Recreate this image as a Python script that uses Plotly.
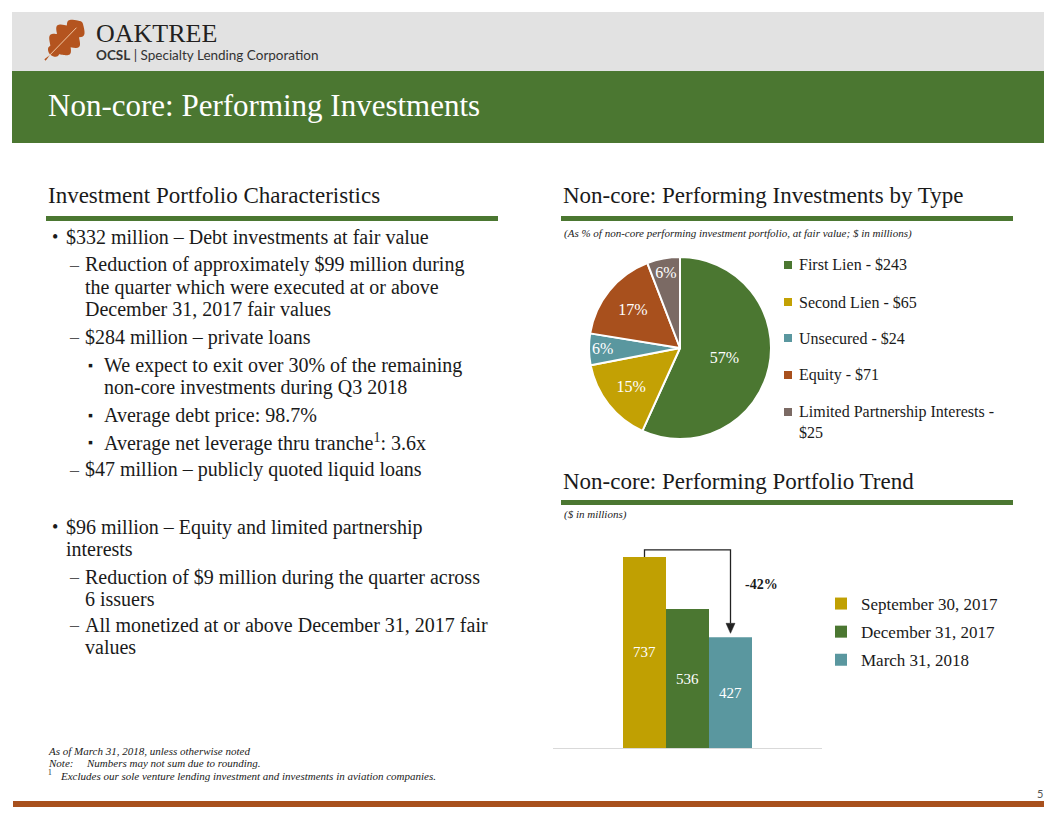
import math
import plotly.graph_objects as go

W, H = 1056, 816
SERIF = "Liberation Serif"
SANS = "Lato"
INK = "#1a1a1a"

# ---------------- data ----------------
pie_labels = ["First Lien", "Second Lien", "Unsecured", "Equity", "Limited Partnership Interests"]
pie_values = [243, 65, 24, 71, 25]
pie_colors = ["#4b7731", "#c3a104", "#5a979f", "#a8501d", "#7b6a64"]

bar_labels = ["September 30, 2017", "December 31, 2017", "March 31, 2018"]
bar_values = [737, 536, 427]
bar_colors = ["#c0a002", "#4b7731", "#5a979f"]

GREEN = "#4b7731"
ORANGE = "#a8501d"


def px(x):
    return x / W


def py(y):
    return 1 - y / H


fig = go.Figure()
shapes = []
ann = []


def rect(x0, y0, x1, y1, color):
    shapes.append(dict(type="rect", xref="paper", yref="paper", x0=px(x0), x1=px(x1),
                       y0=py(y1), y1=py(y0), fillcolor=color, line=dict(width=0), layer="below"))


def text(x, y, s, size, color=INK, family=SERIF, xanchor="left", yanchor="middle", italic=False, bold=False):
    ann.append(dict(x=px(x), y=py(y), xref="paper", yref="paper", text=s, showarrow=False,
                    xanchor=xanchor, yanchor=yanchor, align="left",
                    font=dict(family=family, size=size, color=color,
                              style="italic" if italic else "normal",
                              weight="bold" if bold else "normal")))


# ---------------- header ----------------
rect(12, 12, 1044, 71, "#e2e2e2")
rect(12, 71, 1044, 143, GREEN)

# oak leaf logo
bx, by, tx, ty = 45, 60, 82, 22
L = math.hypot(tx - bx, ty - by)
ux, uy = (tx - bx) / L, (ty - by) / L
nx, ny = -uy, ux
side_a, side_b = [], []
N = 120
for k in range(N + 1):
    t = k / N
    u = 0.14 + 0.86 * t
    w = 15.5 * (math.sin(math.pi * t) ** 0.55) * (0.62 + 0.38 * abs(math.cos(math.pi * 3.5 * t)))
    cx, cy = bx + ux * L * u, by + uy * L * u
    side_a.append((cx + nx * w, cy + ny * w))
    side_b.append((cx - nx * w, cy - ny * w))
pts = [(bx - nx * 0.9, by - ny * 0.9)] + side_a + side_b[::-1] + [(bx + nx * 0.9, by + ny * 0.9)]
path = "M " + " L ".join(f"{px(x):.5f},{py(y):.5f}" for x, y in pts) + " Z"
shapes.append(dict(type="path", xref="paper", yref="paper", path=path, fillcolor="#b4541f",
                   line=dict(width=0)))
shapes.append(dict(type="line", xref="paper", yref="paper", x0=px(bx + ux * 5), y0=py(by + uy * 5),
                   x1=px(bx + ux * L * 0.85), y1=py(by + uy * L * 0.85),
                   line=dict(color="#f2c9a6", width=1)))

text(94, 34, "OAKTREE", 26, color="#231f20")
text(94, 55, "<b>OCSL</b> | Specialty Lending Corporation", 13.5, color="#333333", family=SANS)
text(46, 106, "Non-core: Performing Investments", 31, color="white")

# ---------------- left column ----------------
text(46, 195, "Investment Portfolio Characteristics", 23)
rect(46, 216, 498, 221, GREEN)

L1, L2, L3 = ("•", 50, 64), ("–", 67, 83), ("▪", 86, 102)
body = [
    (237, L1, True, "$332 million – Debt investments at fair value"),
    (265, L2, True, "Reduction of approximately $99 million during"),
    (287, L2, False, "the quarter which were executed at or above"),
    (309, L2, False, "December 31, 2017 fair values"),
    (337, L2, True, "$284 million – private loans"),
    (365, L3, True, "We expect to exit over 30% of the remaining"),
    (387, L3, False, "non-core investments during Q3 2018"),
    (415, L3, True, "Average debt price: 98.7%"),
    (443, L3, True, "Average net leverage thru tranche<sup>1</sup>: 3.6x"),
    (470, L2, True, "$47 million – publicly quoted liquid loans"),
    (527, L1, True, "$96 million – Equity and limited partnership"),
    (549, L1, False, "interests"),
    (577, L2, True, "Reduction of $9 million during the quarter across"),
    (599, L2, False, "6 issuers"),
    (625, L2, True, "All monetized at or above December 31, 2017 fair"),
    (647, L2, False, "values"),
]
for y, lvl, first, s in body:
    sym, sx, tx0 = lvl
    if first:
        col = "#555555" if sym == "–" else INK
        text(sx, y, sym, 14 if sym == "▪" else 18, color=col)
    text(tx0, y, s, 20)

text(46, 751, "As of March 31, 2018, unless otherwise noted", 11, italic=True)
text(46, 763, "Note:", 11, italic=True)
text(84, 763, "Numbers may not sum due to rounding.", 11, italic=True)
text(46, 772, "1", 7.5)
text(58, 776, "Excludes our sole venture lending investment and investments in aviation companies.", 11, italic=True)

rect(13, 801, 1044, 807, ORANGE)
text(1040, 793, "5", 11, color="#555555", family=SANS, xanchor="center")

# ---------------- right column: pie ----------------
text(561, 195, "Non-core: Performing Investments by Type", 23)
rect(561, 216, 1013, 221, GREEN)
text(562, 233, "(As % of non-core performing investment portfolio, at fair value; $ in millions)", 11, italic=True)

pcx, pcy, pr = 680, 348, 91
fig.add_trace(go.Pie(
    labels=pie_labels, values=pie_values, sort=False, direction="clockwise", rotation=0,
    marker=dict(colors=pie_colors, line=dict(color="white", width=2)),
    texttemplate="%{percent:.0%}", textposition="inside", insidetextorientation="horizontal",
    textfont=dict(family=SERIF, size=16, color="white"),
    domain=dict(x=[px(pcx - pr), px(pcx + pr)], y=[py(pcy + pr), py(pcy - pr)]),
    showlegend=False, hoverinfo="label+value+percent",
))

leg_y = [265, 302, 338, 375, 412]
for lab, val, col, y in zip(pie_labels, pie_values, pie_colors, leg_y):
    shapes.append(dict(type="rect", xref="paper", yref="paper", x0=px(784), x1=px(792),
                       y0=py(y + 4), y1=py(y - 4), fillcolor=col, line=dict(width=0)))
    s = f"{lab} - ${val}"
    if len(s) > 28:
        s = f"{lab} -<br>${val}"
        text(797, y - 11, s, 16, yanchor="top")
    else:
        text(797, y, s, 16)

# ---------------- right column: bars ----------------
text(561, 481, "Non-core: Performing Portfolio Trend", 23)
rect(561, 500, 1013, 505, GREEN)
text(562, 514, "($ in millions)", 11, italic=True)

for i, (lab, val, col) in enumerate(zip(bar_labels, bar_values, bar_colors)):
    fig.add_trace(go.Bar(
        x=[i], y=[val], width=1, name=lab, marker=dict(color=col, line=dict(width=0)),
        text=[val], textposition="inside", insidetextanchor="middle",
        textfont=dict(family=SERIF, size=15, color="white"),
        legendgroup=lab, showlegend=True, xaxis="x", yaxis="y",
    ))

# axis geometry (for converting the arrow head size from px to data units)
X0, X1 = 553, 822
XR = [-2.128, 4.128]
Y0, YTOP = 748, 540.6
YR = [0, 800]
ux_px = (X1 - X0) / (XR[1] - XR[0])
uy_px = (Y0 - YTOP) / (YR[1] - YR[0])

last = len(bar_values) - 1
arrow_top = bar_values[0] + 7 / uy_px
arrow_end = bar_values[-1] + 4 / uy_px
head_h = 10 / uy_px
head_w = 4.5 / ux_px
shapes.append(dict(type="path", xref="x", yref="y",
                   path=f"M 0,{bar_values[0]} L 0,{arrow_top} L {last},{arrow_top} L {last},{arrow_end + head_h}",
                   line=dict(color="#222222", width=1.3)))
shapes.append(dict(type="path", xref="x", yref="y",
                   path=f"M {last - head_w},{arrow_end + head_h} L {last + head_w},{arrow_end + head_h} L {last},{arrow_end} Z",
                   fillcolor="#222222", line=dict(color="#222222", width=0.5)))
change = round((bar_values[-1] - bar_values[0]) / bar_values[0] * 100)
ann.append(dict(x=2.29, y=629, xref="x", yref="y", text=f"<b>{change}%</b>", showarrow=False,
                xanchor="left", yanchor="middle", font=dict(family=SERIF, size=14, color=INK)))

fig.update_layout(
    width=W, height=H, margin=dict(l=0, r=0, t=0, b=0),
    paper_bgcolor="white", plot_bgcolor="rgba(0,0,0,0)",
    barmode="overlay",
    xaxis=dict(domain=[px(X0), px(X1)], range=XR, showline=True, linecolor="#d9d9d9",
               linewidth=1, showgrid=False, zeroline=False, showticklabels=False, ticks="", fixedrange=True),
    yaxis=dict(domain=[py(Y0), py(YTOP)], range=YR, showline=False, showgrid=False,
               zeroline=False, showticklabels=False, ticks="", fixedrange=True),
    legend=dict(x=px(821), y=py(586), xanchor="left", yanchor="top", traceorder="grouped",
                tracegroupgap=3, bgcolor="rgba(0,0,0,0)", borderwidth=0,
                font=dict(family=SERIF, size=17, color=INK)),
    uniformtext=dict(minsize=15, mode="show"),
    shapes=shapes, annotations=ann,
    font=dict(family=SERIF, color=INK),
)

fig.write_html("out.html")
